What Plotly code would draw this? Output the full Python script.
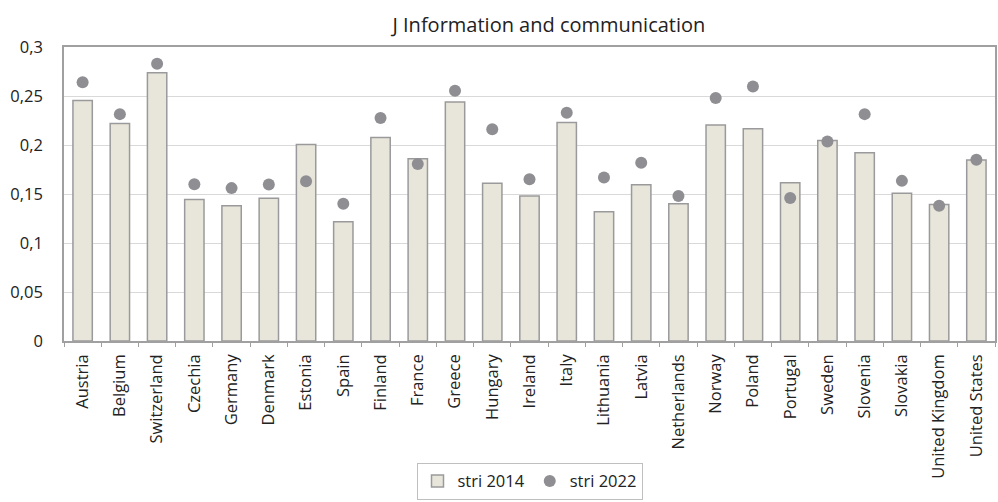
import plotly.graph_objects as go

countries = ["Austria", "Belgium", "Switzerland", "Czechia", "Germany", "Denmark", "Estonia",
             "Spain", "Finland", "France", "Greece", "Hungary", "Ireland", "Italy", "Lithuania",
             "Latvia", "Netherlands", "Norway", "Poland", "Portugal", "Sweden", "Slovenia",
             "Slovakia", "United Kingdom", "United States"]
stri_2014 = [0.2455, 0.222, 0.2737, 0.1443, 0.138, 0.1457, 0.2005, 0.1216, 0.2077, 0.186,
             0.244, 0.161, 0.148, 0.223, 0.1318, 0.1594, 0.140, 0.2203, 0.2166, 0.1614,
             0.2046, 0.192, 0.1508, 0.1393, 0.1846]
stri_2022 = [0.264, 0.2315, 0.283, 0.160, 0.156, 0.1597, 0.163, 0.140, 0.2275, 0.1805,
             0.2554, 0.216, 0.165, 0.233, 0.1668, 0.1818, 0.148, 0.248, 0.2598, 0.146,
             0.2036, 0.2315, 0.1634, 0.138, 0.1849]
y_ticks = [0, 0.05, 0.1, 0.15, 0.2, 0.25, 0.3]
y_labels = ["0", "0,05", "0,1", "0,15", "0,2", "0,25", "0,3"]

font = "'Open Sans', sans-serif"

fig = go.Figure()
fig.add_trace(go.Bar(
    x=countries, y=stri_2014, name="stri 2014",
    marker=dict(color="#E8E6DA", line=dict(color="#9A9A9C", width=1.5)),
    width=0.52,
))
fig.add_trace(go.Scatter(
    x=countries, y=stri_2022, name="stri 2022", mode="markers",
    marker=dict(color="#8E8E93", size=12, symbol="circle"),
))

fig.update_layout(
    width=998, height=502,
    margin=dict(l=64, r=1, t=47, b=161),
    plot_bgcolor="white", paper_bgcolor="white",
    font=dict(family=font, size=16, color="#222"),
    title=dict(text="J Information and communication", x=0.55, xanchor="center",
               y=1 - 25 / 502, yanchor="middle", font=dict(size=20, color="#222")),
    showlegend=True,
    legend=dict(orientation="h", x=0.50, xanchor="center", y=-0.54, yanchor="bottom",
                bordercolor="#BFBFBF", borderwidth=1, font=dict(size=16.5),
                itemwidth=30, tracegroupgap=0),
    xaxis=dict(tickangle=-90, showline=True, linecolor="#A0A0A0", linewidth=1.5,
               mirror=True, ticks="outside", tickson="boundaries", ticklen=4,
               tickcolor="#A0A0A0", tickfont=dict(size=16.5), range=[-0.5, 24.5],
               ticklabelstandoff=5),
    yaxis=dict(range=[0, 0.3], tickvals=y_ticks, ticktext=y_labels, showgrid=True,
               gridcolor="#D9D9D9", gridwidth=1, showline=True, linecolor="#A0A0A0",
               linewidth=1.5, mirror=True, tickfont=dict(size=16.5), zeroline=False,
               ticks="", ticklabelstandoff=16),
    bargap=0.48,
)

fig.write_html("out.html")
